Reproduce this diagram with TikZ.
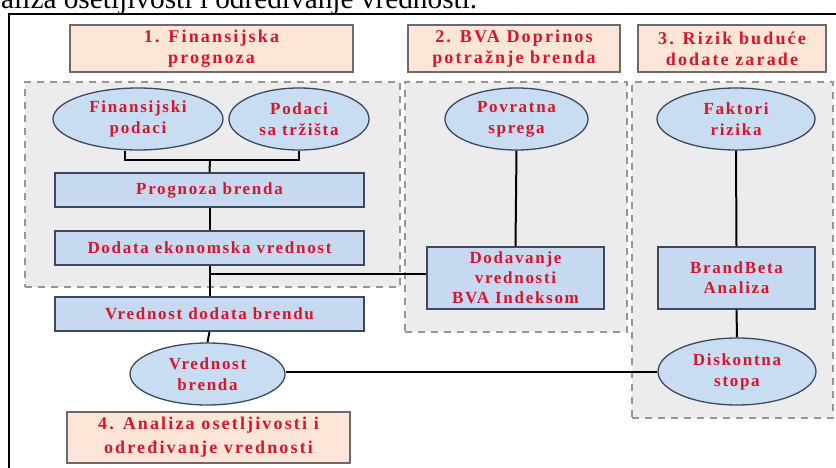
\documentclass[tikz,border=0pt]{standalone}
\usepackage{fontspec}
\setmainfont{Liberation Serif}
\newfontfamily\lblfont[LetterSpace=10]{Liberation Serif}
\newfontfamily\hdrfont[LetterSpace=12]{Liberation Serif}
\usetikzlibrary{shapes.geometric}
\definecolor{txtred}{RGB}{214,22,42}
\definecolor{boxblue}{RGB}{198,217,241}
\definecolor{ellblue}{RGB}{200,220,242}
\definecolor{boxline}{RGB}{62,72,98}
\definecolor{peach}{RGB}{253,230,216}
\definecolor{hdrline}{RGB}{105,105,110}
\definecolor{grpfill}{RGB}{236,236,236}
\definecolor{grpline}{RGB}{150,150,150}
\tikzset{
  hdrbox/.style={draw=hdrline, line width=1.5pt, fill=peach, text=txtred, align=center,
    inner sep=0pt, font=\hdrfont\bfseries\fontsize{18}{21}\selectfont},
  grpbox/.style={draw=grpline, line width=2pt, dash pattern=on 7pt off 6pt, fill=grpfill, inner sep=0pt},
  bluebox/.style={draw=boxline, line width=1.5pt, fill=boxblue, text=txtred, align=center,
    inner sep=0pt, font=\lblfont\bfseries\fontsize{17}{20}\selectfont},
  blueell/.style={ellipse, draw=boxline, line width=1.3pt, fill=ellblue, text=txtred, align=center,
    inner sep=0pt, font=\lblfont\bfseries\fontsize{17}{21}\selectfont},
  conn/.style={draw=black, line width=2pt},
  frameline/.style={draw=black, line width=2.5pt}
}
\begin{document}
\begin{tikzpicture}[x=1pt,y=-1pt]
\useasboundingbox (0,0) rectangle (836,468);
\begin{scope}
\clip (0,0) rectangle (836,468);
\node[anchor=base west, inner sep=0pt, font=\fontsize{29.3}{31}\selectfont] (cap) at (1,9) {aliza osetljivosti i odredivanje vrednosti.};
\end{scope}
% outer frame
\coordinate (fl) at (9,468);
\coordinate (fc) at (9,14);
\coordinate (fr) at (836,14);
\draw[frameline] (fl) -- (fc) -- (fr);
% headers
\node[hdrbox, minimum width=283, minimum height=47] (h1) at (211.5,48.5) {1. Finansijska\\prognoza};
\node[hdrbox, minimum width=212, minimum height=47] (h2) at (514,48.5) {2. BVA Doprinos\\potražnje brenda};
\node[hdrbox, minimum width=188, minimum height=47] (h3) at (732,48.5) {3. Rizik buduće\\dodate zarade};
% groups
\node[grpbox, minimum width=375, minimum height=205] (g1) at (212.5,184.5) {};
\node[grpbox, minimum width=222, minimum height=250] (g2) at (516,207) {};
\node[grpbox, minimum width=201, minimum height=336] (g3) at (732.5,250) {};
% nodes
\node[blueell, minimum width=170, minimum height=62] (e1) at (138,119) {Finansijski\\podaci};
\node[blueell, minimum width=140, minimum height=62] (e2) at (299,119) {Podaci\\sa tržišta};
\node[bluebox, minimum width=309, minimum height=34] (pb) at (209.5,190) {Prognoza brenda};
\node[bluebox, minimum width=309, minimum height=34] (dev) at (209.5,248) {Dodata ekonomska vrednost};
\node[bluebox, minimum width=309, minimum height=34] (vdb) at (209.5,314) {Vrednost dodata brendu};
\node[blueell, minimum width=155, minimum height=62] (vb) at (207.5,374) {Vrednost\\brenda};
\node[hdrbox, minimum width=283, minimum height=51, font=\hdrfont\bfseries\fontsize{18}{24}\selectfont] (h4) at (208.5,437.5) {4. Analiza osetljivosti i\\određivanje vrednosti};
\node[blueell, minimum width=143, minimum height=62] (ps) at (516.5,119) {Povratna\\sprega};
\node[bluebox, minimum width=177, minimum height=62] (dv) at (515.5,278) {Dodavanje\\vrednosti\\BVA Indeksom};
\node[blueell, minimum width=158, minimum height=62] (fk) at (736,119) {Faktori\\rizika};
\node[bluebox, minimum width=157, minimum height=62] (bb) at (736.5,278) {BrandBeta\\Analiza};
\node[blueell, minimum width=158, minimum height=67] (ds) at (737,371.5) {Diskontna\\stopa};
% connectors
\coordinate (j) at (210,160);
\draw[conn] ([xshift=-13pt]e1.south) |- (j) -| (e2.south);
\draw[conn] (j) -- (pb.north);
\draw[conn] (pb.south) -- (dev.north);
\draw[conn] (dev.south) -- (vdb.north);
\draw[conn] ([yshift=4pt]dv.west) -- ([yshift=4pt]dv.west -| dev.south);
\draw[conn] (vdb.south) -- (vb.north);
\draw[conn] (vb.east |- ds.west) -- (ds.west);
\draw[conn] (ps.south) -- (dv.north);
\draw[conn] (fk.south) -- (bb.north);
\draw[conn] (bb.south) -- (ds.north);
\end{tikzpicture}
\end{document}
